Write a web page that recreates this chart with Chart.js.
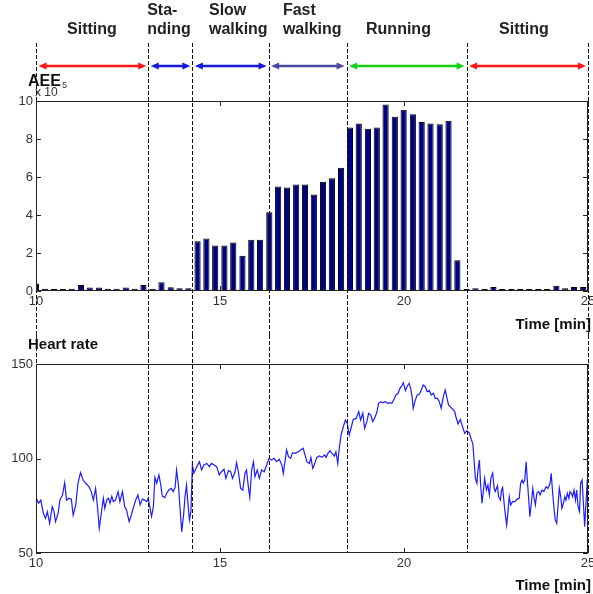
<!DOCTYPE html>
<html>
<head>
<meta charset="utf-8">
<script src="https://cdn.jsdelivr.net/npm/chart.js@4.4.0/dist/chart.umd.min.js"></script>
<style>
  html, body { margin: 0; padding: 0; background: #fff; overflow: hidden; }
  #wrap { position: relative; width: 593px; height: 594px; overflow: hidden; background: #fff; }
  canvas { position: absolute; left: 0; }
  #aeeChart { top: 0; }
  #hrChart { top: 335px; }
</style>
</head>
<body>
<div id="wrap">
  <canvas id="aeeChart" width="600" height="335"></canvas>
  <canvas id="hrChart" width="600" height="259"></canvas>
</div>
<script>
// Activities (minutes)
const activityNames = [['Sitting'], ['Sta-', 'nding'], ['Slow', 'walking'], ['Fast', 'walking'], ['Running'], ['Sitting']];
const activityBounds = [10, 13.05, 14.25, 16.32, 18.44, 21.70, 25];
const activityColors = ['#ff1616', '#1818d8', '#1818d8', '#4a4aa2', '#16d016', '#ff1616'];

const xTicks = [10, 15, 20, 25];
const aeeTicks = [0, 2, 4, 6, 8, 10];
const hrTicks = [50, 100, 150];

// AEE bars (x 10^5)
const aeeTimes = [
  10.00, 10.24, 10.49, 10.73, 10.97, 11.22, 11.46, 11.71, 11.95, 12.19,
  12.44, 12.68, 12.92, 13.17, 13.41, 13.66, 13.90, 14.14, 14.39, 14.63,
  14.87, 15.12, 15.36, 15.61, 15.85, 16.09, 16.34, 16.58, 16.82, 17.07,
  17.31, 17.55, 17.80, 18.04, 18.29, 18.53, 18.77, 19.02, 19.26, 19.50,
  19.75, 19.99, 20.24, 20.48, 20.72, 20.97, 21.21, 21.45, 21.70, 21.94,
  22.19, 22.43, 22.67, 22.92, 23.16, 23.40, 23.65, 23.89, 24.14, 24.38,
  24.62, 24.87
];
const aeeValues = [
  0.40, 0.12, 0.04, 0.04, 0.12, 0.32, 0.19, 0.19, 0.12, 0.12,
  0.19, 0.12, 0.32, 0.12, 0.46, 0.20, 0.14, 0.14, 2.62, 2.76,
  2.40, 2.40, 2.55, 1.85, 2.70, 2.70, 4.15, 5.50, 5.45, 5.60,
  5.60, 5.08, 5.75, 5.94, 6.49, 8.61, 8.82, 8.54, 8.61, 9.82,
  9.17, 9.54, 9.30, 8.89, 8.82, 8.77, 8.96, 1.62, 0.07, 0.14,
  0.04, 0.21, 0.07, 0.07, 0.07, 0.07, 0.07, 0.07, 0.28, 0.14,
  0.21, 0.21
];

// Heart rate trace
const hrTimes = [
  10.00, 10.07, 10.13, 10.20, 10.26, 10.31, 10.37, 10.44, 10.49, 10.53,
  10.60, 10.65, 10.72, 10.78, 10.83, 10.90, 10.96, 11.01, 11.08, 11.14,
  11.21, 11.28, 11.35, 11.44, 11.50, 11.56, 11.62, 11.67, 11.72, 11.78,
  11.83, 11.87, 11.92, 11.97, 12.01, 12.06, 12.10, 12.16, 12.23, 12.28,
  12.35, 12.41, 12.46, 12.53, 12.59, 12.64, 12.71, 12.77, 12.83, 12.89,
  12.95, 13.01, 13.05, 13.10, 13.14, 13.19, 13.23, 13.28, 13.34, 13.39,
  13.43, 13.50, 13.55, 13.61, 13.68, 13.73, 13.78, 13.82, 13.87, 13.93,
  13.96, 14.01, 14.05, 14.09, 14.13, 14.17, 14.21, 14.25, 14.29, 14.37,
  14.44, 14.50, 14.56, 14.64, 14.71, 14.77, 14.84, 14.91, 14.98, 15.04,
  15.11, 15.16, 15.23, 15.29, 15.34, 15.41, 15.45, 15.50, 15.56, 15.62,
  15.68, 15.72, 15.77, 15.81, 15.86, 15.91, 15.95, 16.01, 16.07, 16.13,
  16.20, 16.27, 16.33, 16.40, 16.47, 16.54, 16.61, 16.68, 16.72, 16.81,
  16.86, 16.92, 16.97, 17.04, 17.13, 17.22, 17.26, 17.31, 17.36, 17.43,
  17.47, 17.52, 17.56, 17.63, 17.70, 17.77, 17.84, 17.88, 17.93, 17.99,
  18.04, 18.11, 18.15, 18.20, 18.24, 18.29, 18.35, 18.41, 18.46, 18.51,
  18.57, 18.62, 18.70, 18.77, 18.82, 18.88, 18.93, 18.99, 19.04, 19.10,
  19.15, 19.20, 19.26, 19.31, 19.37, 19.42, 19.49, 19.56, 19.62, 19.67,
  19.73, 19.78, 19.84, 19.89, 19.95, 19.98, 20.04, 20.09, 20.14, 20.18,
  20.22, 20.25, 20.31, 20.36, 20.42, 20.47, 20.52, 20.58, 20.63, 20.69,
  20.74, 20.80, 20.85, 20.91, 20.96, 21.01, 21.07, 21.12, 21.21, 21.30,
  21.38, 21.41, 21.47, 21.53, 21.59, 21.65, 21.71, 21.78, 21.83, 21.87,
  21.90, 21.94, 21.98, 22.01, 22.05, 22.08, 22.12, 22.16, 22.19, 22.24,
  22.28, 22.32, 22.36, 22.41, 22.45, 22.48, 22.54, 22.57, 22.62, 22.65,
  22.68, 22.72, 22.75, 22.79, 22.83, 22.86, 22.90, 22.95, 23.01, 23.07,
  23.13, 23.17, 23.21, 23.24, 23.28, 23.32, 23.35, 23.39, 23.42, 23.46,
  23.50, 23.53, 23.57, 23.61, 23.66, 23.70, 23.75, 23.80, 23.86, 23.91,
  23.97, 24.00, 24.04, 24.08, 24.11, 24.15, 24.19, 24.22, 24.26, 24.29,
  24.33, 24.37, 24.40, 24.44, 24.48, 24.51, 24.55, 24.58, 24.62, 24.66,
  24.69, 24.73, 24.77, 24.80, 24.84, 24.87, 24.91, 24.95, 24.98, 25.00
];
const hrValues = [
  79.5, 76.3, 78, 71, 68.4, 71.9, 65.7, 74.5, 71.9, 66.6,
  71, 78, 80.7, 87.2, 78, 79, 78.5, 70, 75.4, 86.9,
  92.5, 88.6, 86.9, 85.1, 82.5, 78, 84.2, 74.5, 63.1, 71.9,
  79, 73.6, 78, 79, 76.3, 80, 77.2, 78, 82.5, 77.2,
  82.5, 74.5, 72.8, 66.6, 70, 73.6, 78, 80.7, 75.4, 78.5,
  78, 77.2, 79, 73.6, 69.3, 74.5, 90, 86.9, 91.3, 86,
  80.2, 79.3, 81.6, 83.4, 84.2, 82.5, 84.7, 93.9, 86, 69.2,
  61.3, 70, 80, 86, 76, 67.5, 72, 96.6, 92.2, 95.7,
  98.3, 93.9, 96.6, 97.4, 95.7, 97.4, 96.6, 95.7, 91.3, 93.0,
  94.3, 89.5, 93.6, 93.0, 89.5, 93.0, 97.8, 93.0, 84.2, 83.3,
  92.2, 93.9, 85.1, 79.5, 93.9, 98.3, 90.4, 93.9, 89.5, 93.9,
  93.0, 96.6, 100.1, 99.2, 100.1, 98.3, 99.6, 96.6, 92, 104.5,
  101, 100.1, 103.1, 102.7, 103.6, 104.9, 105.4, 101.9, 98.3, 97.4,
  100.6, 94.8, 96.6, 100.6, 101.3, 100.6, 101.9, 100.6, 102.7, 104.1,
  102.7, 101.3, 103.6, 97.4, 105.4, 112.4, 116.8, 120.4, 118.6, 112.4,
  116.8, 120.7, 121.2, 124.8, 120.4, 123.9, 116, 119.5, 123.9, 123,
  119.5, 121.3, 124.3, 129.2, 130.1, 129.5, 130.1, 129.2, 129.5, 129.2,
  131.3, 133.6, 134.5, 137.1, 138.9, 140.1, 135.9, 138.4, 139.8, 137.1,
  132.7, 126.5, 131, 133.6, 134.1, 136.2, 138.9, 138, 135.4, 135.9,
  133.6, 134.5, 131.8, 131.8, 130.1, 126.5, 132.7, 136.2, 128.3, 126.5,
  124.8, 122.1, 118.3, 120.7, 116.8, 113.3, 114.7, 113.3, 109.8, 108,
  100.1, 89.5, 86.9, 93.9, 99.2, 86.9, 76.3, 83.3, 89.5, 83.3,
  86, 80.7, 89.5, 92.2, 84.2, 82.5, 85.5, 79.8, 78, 83.3,
  84.7, 76.3, 71, 64.8, 72.8, 79.8, 75.4, 77.2, 77.2, 78.4,
  78.9, 86.9, 88.6, 86.9, 88.6, 98.3, 88.6, 78, 69.2, 76.3,
  84.2, 79.8, 75.4, 81.6, 82.5, 80.7, 83.3, 82.5, 85.1, 84.2,
  86.9, 92.2, 81.6, 72.8, 67.5, 65.7, 76.3, 84.2, 79.8, 73.6,
  76.3, 79.8, 78, 81.6, 78.9, 82.5, 81.6, 79.8, 83.3, 78,
  83.3, 74.5, 71.9, 86.9, 88.6, 78, 63.9, 78, 88.6, 85
];

const FONT = '"Liberation Sans", Arial, Helvetica, sans-serif';
const tickFont = { family: FONT, size: 13 };

// label placement for the activity names: [minute, align]
const labelPlace = [[11.52, 'center'], [13.02, 'left'], [14.70, 'left'], [16.71, 'left'], [19.85, 'center'], [23.26, 'center']];

function drawDashed(chart, y0, y1) {
  const ctx = chart.ctx;
  const xs = chart.scales.x;
  ctx.save();
  ctx.setLineDash([4, 2]);
  ctx.strokeStyle = '#111';
  ctx.lineWidth = 1;
  activityBounds.forEach(function(t) {
    const px = Math.round(xs.getPixelForValue(t)) + 0.5;
    ctx.beginPath();
    ctx.moveTo(px, y0);
    ctx.lineTo(px, y1);
    ctx.stroke();
  });
  ctx.restore();
}

function drawFrame(chart) {
  const ctx = chart.ctx;
  const a = chart.chartArea;
  const xs = chart.scales.x, ys = chart.scales.y;
  ctx.save();
  ctx.strokeStyle = '#222';
  ctx.lineWidth = 1;
  ctx.strokeRect(a.left + 0.5, a.top + 0.5, a.right - a.left - 1, a.bottom - a.top - 1);
  ctx.beginPath();
  xs.ticks.forEach(function(tk) {
    const px = Math.round(xs.getPixelForValue(tk.value)) + 0.5;
    ctx.moveTo(px, a.top); ctx.lineTo(px, a.top + 5);
    ctx.moveTo(px, a.bottom); ctx.lineTo(px, a.bottom - 5);
  });
  ys.ticks.forEach(function(tk) {
    const py = Math.round(ys.getPixelForValue(tk.value)) + 0.5;
    ctx.moveTo(a.left, py); ctx.lineTo(a.left + 5, py);
    ctx.moveTo(a.right, py); ctx.lineTo(a.right - 5, py);
  });
  ctx.stroke();
  ctx.restore();
}

function drawArrow(ctx, x0, x1, y, color) {
  const head = 8, half = 3.5;
  ctx.strokeStyle = color;
  ctx.fillStyle = color;
  ctx.lineWidth = 2.5;
  ctx.beginPath();
  ctx.moveTo(x0 + head - 1, y);
  ctx.lineTo(x1 - head + 1, y);
  ctx.stroke();
  ctx.beginPath();
  ctx.moveTo(x0, y); ctx.lineTo(x0 + head, y - half); ctx.lineTo(x0 + head, y + half);
  ctx.closePath(); ctx.fill();
  ctx.beginPath();
  ctx.moveTo(x1, y); ctx.lineTo(x1 - head, y - half); ctx.lineTo(x1 - head, y + half);
  ctx.closePath(); ctx.fill();
}

const topOverlay = {
  id: 'topOverlay',
  afterDraw(chart) {
    const ctx = chart.ctx;
    const xs = chart.scales.x;
    drawDashed(chart, 43, chart.height);
    drawFrame(chart);

    ctx.save();
    // activity names
    ctx.fillStyle = '#222';
    ctx.font = 'bold 16px ' + FONT;
    ctx.textBaseline = 'middle';
    activityNames.forEach(function(lines, i) {
      const px = xs.getPixelForValue(labelPlace[i][0]);
      ctx.textAlign = labelPlace[i][1];
      if (lines.length === 1) {
        ctx.fillText(lines[0], px, 30);
      } else {
        ctx.fillText(lines[0], px, 11);
        ctx.fillText(lines[1], px, 30);
      }
    });

    // arrows
    for (let i = 0; i < activityColors.length; i++) {
      const x0 = xs.getPixelForValue(activityBounds[i]) + 2.5;
      const x1 = xs.getPixelForValue(activityBounds[i + 1]) - 2;
      drawArrow(ctx, x0, x1, 66, activityColors[i]);
    }

    // axis titles
    ctx.fillStyle = '#111';
    ctx.textAlign = 'left';
    ctx.textBaseline = 'alphabetic';
    ctx.font = 'bold 16px ' + FONT;
    ctx.fillText('AEE', 28, 86);
    ctx.fillStyle = '#333';
    ctx.font = '12px ' + FONT;
    ctx.fillText('x 10', 35, 96);
    ctx.font = '9px ' + FONT;
    ctx.fillText('5', 62, 88);

    ctx.fillStyle = '#111';
    ctx.font = 'bold 15px ' + FONT;
    ctx.textAlign = 'right';
    ctx.fillText('Time [min]', 591, 329);
    ctx.restore();
  }
};

const bottomOverlay = {
  id: 'bottomOverlay',
  afterDraw(chart) {
    const ctx = chart.ctx;
    drawDashed(chart, 0, chart.chartArea.bottom);
    drawFrame(chart);
    ctx.save();
    ctx.fillStyle = '#111';
    ctx.font = 'bold 15px ' + FONT;
    ctx.textAlign = 'left';
    ctx.fillText('Heart rate', 28, 14);
    ctx.textAlign = 'right';
    ctx.fillText('Time [min]', 591, 255);
    ctx.restore();
  }
};

function xScale(height) {
  return {
    type: 'linear',
    min: 10,
    max: 25,
    offset: false,
    grid: { display: false, drawTicks: false, offset: false },
    border: { display: false },
    afterBuildTicks: function(s) { s.ticks = xTicks.map(v => ({ value: v })); },
    ticks: { padding: 3, font: tickFont, color: '#333', maxRotation: 0, autoSkip: false },
    afterFit: function(s) { s.height = height; }
  };
}

function yScale(min, max, tickList) {
  return {
    min: min,
    max: max,
    grid: { display: false, drawTicks: false },
    border: { display: false },
    afterBuildTicks: function(s) { s.ticks = tickList.map(v => ({ value: v })); },
    ticks: { padding: 3, font: tickFont, color: '#333', autoSkip: false },
    afterFit: function(s) { s.width = 36; }
  };
}

new Chart(document.getElementById('aeeChart'), {
  type: 'bar',
  data: {
    datasets: [{
      data: aeeTimes.map((t, i) => ({ x: t, y: aeeValues[i] })),
      backgroundColor: '#000080',
      borderColor: '#000',
      borderWidth: 1,
      minBarLength: 2,
      barPercentage: 0.7,
      categoryPercentage: 1
    }]
  },
  options: {
    responsive: false,
    animation: false,
    devicePixelRatio: 1,
    layout: { padding: { top: 101, right: 12, left: 0, bottom: 0 } },
    plugins: { legend: { display: false }, tooltip: { enabled: false } },
    scales: { x: xScale(44), y: yScale(0, 10, aeeTicks) }
  },
  plugins: [topOverlay]
});

new Chart(document.getElementById('hrChart'), {
  type: 'line',
  data: {
    datasets: [{
      data: hrTimes.map((t, i) => ({ x: t, y: hrValues[i] })),
      borderColor: '#1c1cff',
      borderWidth: 1.2,
      pointRadius: 0,
      tension: 0,
      fill: false
    }]
  },
  options: {
    responsive: false,
    animation: false,
    devicePixelRatio: 1,
    layout: { padding: { top: 29, right: 12, left: 0, bottom: 0 } },
    plugins: { legend: { display: false }, tooltip: { enabled: false } },
    scales: { x: xScale(41), y: yScale(50, 150, hrTicks) }
  },
  plugins: [bottomOverlay]
});
</script>
</body>
</html>
